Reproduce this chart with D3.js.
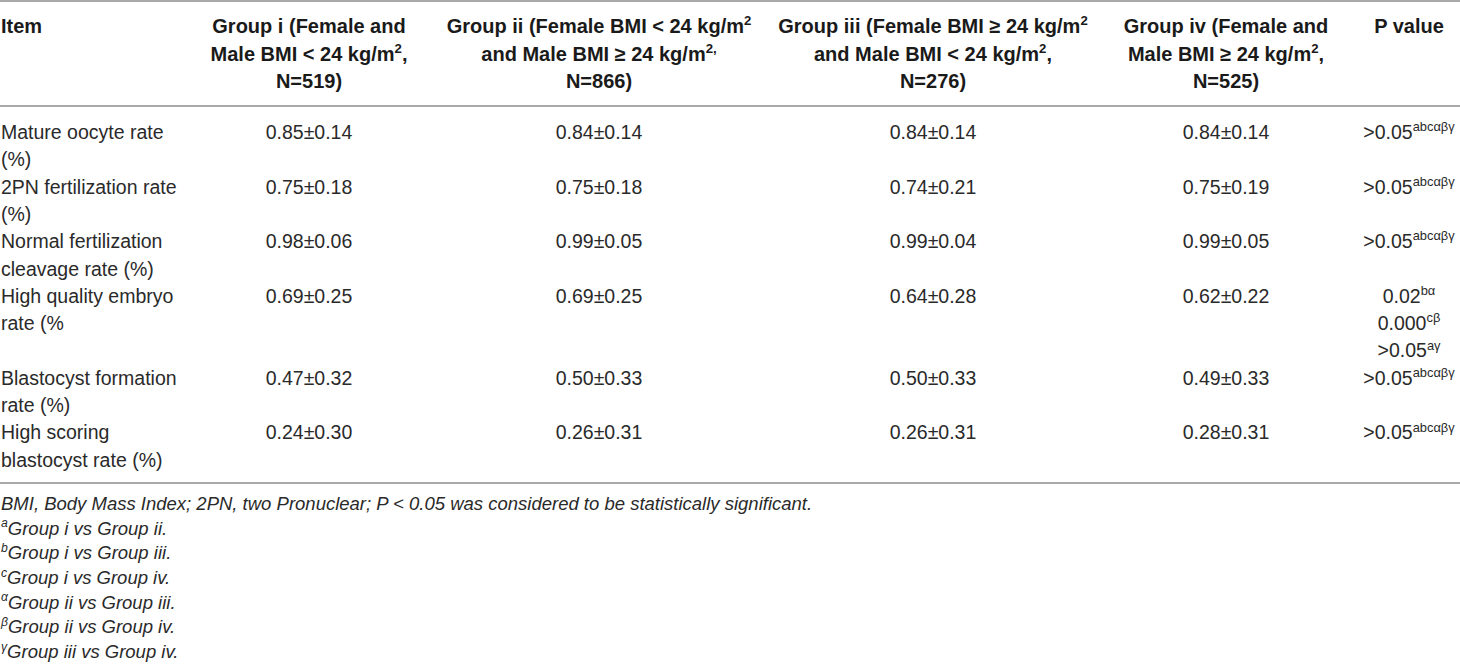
<!DOCTYPE html>
<html>
<head>
<meta charset="utf-8">
<script src="https://cdn.jsdelivr.net/npm/d3@7"></script>
<style>
  body { margin: 0; background: #fff; }
  svg { display: block; }
</style>
</head>
<body>
<div id="table"></div>
<script>
// Table: embryo outcomes by couple BMI group
const width = 1460;
const height = 671;

// data
const columns = ["Item", "Group i", "Group ii", "Group iii", "Group iv", "P value"];
const headerLines = [
  ["Item"],
  ["Group i (Female and", "Male BMI < 24 kg/m^{2},", "N=519)"],
  ["Group ii (Female BMI < 24 kg/m^{2}", "and Male BMI ≥ 24 kg/m^{2,}", "N=866)"],
  ["Group iii (Female BMI ≥ 24 kg/m^{2}", "and Male BMI < 24 kg/m^{2},", "N=276)"],
  ["Group iv (Female and", "Male BMI ≥ 24 kg/m^{2},", "N=525)"],
  ["P value"]
];
const items = [
  ["Mature oocyte rate", "(%)"],
  ["2PN fertilization rate", "(%)"],
  ["Normal fertilization", "cleavage rate (%)"],
  ["High quality embryo", "rate (%"],
  ["Blastocyst formation", "rate (%)"],
  ["High scoring", "blastocyst rate (%)"]
];
const meanI   = [0.85, 0.75, 0.98, 0.69, 0.47, 0.24];
const sdI     = [0.14, 0.18, 0.06, 0.25, 0.32, 0.30];
const meanII  = [0.84, 0.75, 0.99, 0.69, 0.50, 0.26];
const sdII    = [0.14, 0.18, 0.05, 0.25, 0.33, 0.31];
const meanIII = [0.84, 0.74, 0.99, 0.64, 0.50, 0.26];
const sdIII   = [0.14, 0.21, 0.04, 0.28, 0.33, 0.31];
const meanIV  = [0.84, 0.75, 0.99, 0.62, 0.49, 0.28];
const sdIV    = [0.14, 0.19, 0.05, 0.22, 0.33, 0.31];
const pValues = [
  [">0.05^{abcαβγ}"],
  [">0.05^{abcαβγ}"],
  [">0.05^{abcαβγ}"],
  ["0.02^{bα}", "0.000^{cβ}", ">0.05^{aγ}"],
  [">0.05^{abcαβγ}"],
  [">0.05^{abcαβγ}"]
];
const footnotes = [
  "BMI, Body Mass Index; 2PN, two Pronuclear; P < 0.05 was considered to be statistically significant.",
  "^{a}Group i vs Group ii.",
  "^{b}Group i vs Group iii.",
  "^{c}Group i vs Group iv.",
  "^{α}Group ii vs Group iii.",
  "^{β}Group ii vs Group iv.",
  "^{γ}Group iii vs Group iv."
];

const fmt = d3.format(".2f");
const groups = [[meanI, sdI], [meanII, sdII], [meanIII, sdIII], [meanIV, sdIV]];

// scales
const xCol = d3.scaleOrdinal()
  .domain(columns)
  .range([1, 309, 599, 933, 1226, 1409]);
const anchor = c => c === "Item" ? "start" : "middle";

const yHead = d3.scaleLinear().domain([0, 1]).range([26, 53.5]);
const yBody = d3.scaleLinear().domain([0, 1]).range([132, 159.3]);
const yFoot = d3.scaleLinear().domain([0, 1]).range([503.3, 528]);

const svg = d3.select("#table")
  .append("svg")
  .attr("width", width)
  .attr("height", height)
  .attr("font-family", "'Liberation Sans', Arial, sans-serif");

// writes "text^{sup}text" as tspans
function rich(sel, str, fs) {
  const parts = str.split(/\^\{|\}/);
  let up = 0;
  parts.forEach((p, i) => {
    if (!p) return;
    const sup = i % 2 === 1;
    const shift = sup ? -fs * 0.4 : 0;
    sel.append("tspan")
      .attr("dy", shift - up)
      .attr("font-size", sup ? fs * 0.66 : fs)
      .text(p);
    up = shift;
  });
}

// rules
svg.selectAll("line.rule")
  .data([1, 106, 483])
  .enter()
  .append("line")
    .attr("class", "rule")
    .attr("x1", 0)
    .attr("x2", width)
    .attr("y1", d => d)
    .attr("y2", d => d)
    .attr("stroke", "#8c8c8c")
    .attr("stroke-width", 1.5);

// header
const headFs = 20;
columns.forEach((c, ci) => {
  headerLines[ci].forEach((ln, li) => {
    const t = svg.append("text")
      .attr("x", xCol(c))
      .attr("y", yHead(li) + headFs * 0.36)
      .attr("text-anchor", anchor(c))
      .attr("font-weight", "bold")
      .attr("font-size", headFs)
      .attr("fill", "#1a1a1a");
    rich(t, ln, headFs);
  });
});

// body
const bodyFs = 19.5;
let lineStart = 0;
items.forEach((lines, r) => {
  lines.forEach((ln, li) => {
    svg.append("text")
      .attr("x", xCol("Item"))
      .attr("y", yBody(lineStart + li) + bodyFs * 0.36)
      .attr("font-size", bodyFs)
      .attr("fill", "#2a2a2a")
      .text(ln);
  });

  groups.forEach((g, gi) => {
    svg.append("text")
      .attr("x", xCol(columns[gi + 1]))
      .attr("y", yBody(lineStart) + bodyFs * 0.36)
      .attr("text-anchor", "middle")
      .attr("font-size", bodyFs)
      .attr("fill", "#2a2a2a")
      .text(fmt(g[0][r]) + "±" + fmt(g[1][r]));
  });

  pValues[r].forEach((pv, li) => {
    const t = svg.append("text")
      .attr("x", xCol("P value"))
      .attr("y", yBody(lineStart + li) + bodyFs * 0.36)
      .attr("text-anchor", "middle")
      .attr("font-size", bodyFs)
      .attr("fill", "#2a2a2a");
    rich(t, pv, bodyFs);
  });

  lineStart += Math.max(lines.length, pValues[r].length);
});

// footnotes
const footFs = 18.5;
footnotes.forEach((f, i) => {
  const t = svg.append("text")
    .attr("x", 1)
    .attr("y", yFoot(i) + footFs * 0.36)
    .attr("font-size", footFs)
    .attr("font-style", "italic")
    .attr("fill", "#2a2a2a");
  rich(t, f, footFs);
});
</script>
</body>
</html>
